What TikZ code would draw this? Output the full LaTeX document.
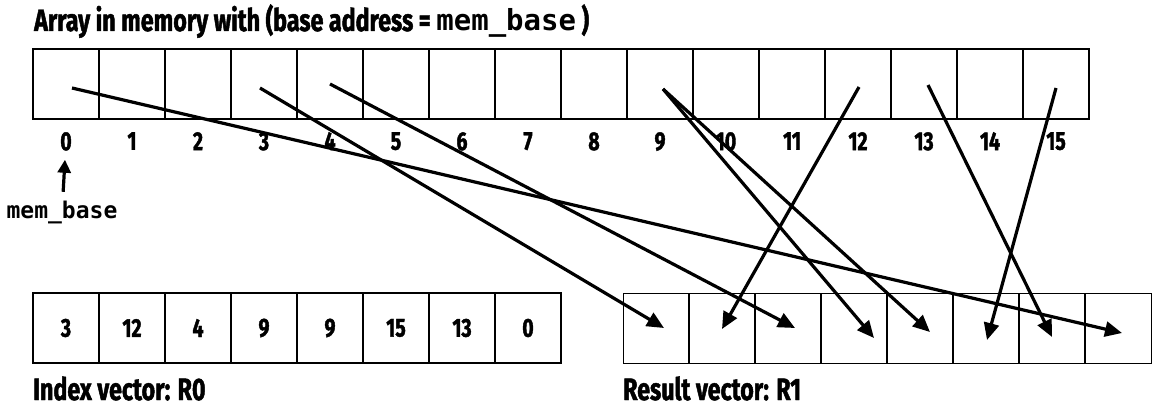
\documentclass[tikz,border=0pt]{standalone}
\usepackage{fontspec}
\newfontfamily\condfont{Fira Sans}[UprightFont=* Bold, FakeStretch=0.75, FakeBold=1.5]
\newfontfamily\codefont{DejaVu Sans Mono}
\usetikzlibrary{arrows.meta,positioning}

\begin{document}
\begin{tikzpicture}[
    x=1pt, y=-1pt,
    node distance=0pt,
    memcell/.style={rectangle, draw, line width=1.6pt, outer sep=0pt, inner sep=0pt, minimum width=66pt, minimum height=70pt},
    idxcell/.style={memcell, font=\condfont\fontsize{26}{28}\selectfont},
    rescell/.style={rectangle, outer sep=0pt, inner sep=0pt, minimum width=66pt, minimum height=70pt},
    numlabel/.style={inner sep=0pt, font=\condfont\fontsize{26}{28}\selectfont},
    caption/.style={anchor=base west, inner sep=0pt, font=\condfont\fontsize{31}{33}\selectfont},
    codelabel/.style={inner sep=0pt, font=\codefont\bfseries\fontsize{23}{25}\selectfont},
    gather/.style={-{Triangle[length=17pt, width=15pt]}, line width=3.2pt},
    pointer/.style={-{Triangle[length=13pt, width=13pt]}, line width=3.2pt}
]
\useasboundingbox (0,0) rectangle (1166,412);

% Title
\node[caption] (title) at (34,31) {Array in memory with (base address = {\codefont\bfseries\fontsize{29}{31}\selectfont mem\_base} )};

% Array in memory (16 cells)
\node[memcell] (m0) at (66,84) {};
\node[memcell, right=of m0] (m1) {};
\node[memcell, right=of m1] (m2) {};
\node[memcell, right=of m2] (m3) {};
\node[memcell, right=of m3] (m4) {};
\node[memcell, right=of m4] (m5) {};
\node[memcell, right=of m5] (m6) {};
\node[memcell, right=of m6] (m7) {};
\node[memcell, right=of m7] (m8) {};
\node[memcell, right=of m8] (m9) {};
\node[memcell, right=of m9] (m10) {};
\node[memcell, right=of m10] (m11) {};
\node[memcell, right=of m11] (m12) {};
\node[memcell, right=of m12] (m13) {};
\node[memcell, right=of m13] (m14) {};
\node[memcell, right=of m14] (m15) {};

% Addresses
\node[numlabel, below=13pt of m0] (l0) {0};
\node[numlabel, below=13pt of m1] (l1) {1};
\node[numlabel, below=13pt of m2] (l2) {2};
\node[numlabel, below=13pt of m3] (l3) {3};
\node[numlabel, below=13pt of m4] (l4) {4};
\node[numlabel, below=13pt of m5] (l5) {5};
\node[numlabel, below=13pt of m6] (l6) {6};
\node[numlabel, below=13pt of m7] (l7) {7};
\node[numlabel, below=13pt of m8] (l8) {8};
\node[numlabel, below=13pt of m9] (l9) {9};
\node[numlabel, below=13pt of m10] (l10) {10};
\node[numlabel, below=13pt of m11] (l11) {11};
\node[numlabel, below=13pt of m12] (l12) {12};
\node[numlabel, below=13pt of m13] (l13) {13};
\node[numlabel, below=13pt of m14] (l14) {14};
\node[numlabel, below=13pt of m15] (l15) {15};

% Base pointer
\node[codelabel, below=50pt of l0, xshift=-4pt] (base) {mem\_base};
\draw[pointer, shorten <=9pt, shorten >=9pt] (base) -- (l0);

% Index vector
\node[idxcell] (i0) at (66,328) {3};
\node[idxcell, right=of i0] (i1) {12};
\node[idxcell, right=of i1] (i2) {4};
\node[idxcell, right=of i2] (i3) {9};
\node[idxcell, right=of i3] (i4) {9};
\node[idxcell, right=of i4] (i5) {15};
\node[idxcell, right=of i5] (i6) {13};
\node[idxcell, right=of i6] (i7) {0};
\node[caption] (idxcap) at ([yshift=-37pt]i0.south west) {Index vector: R0};

% Result vector (thin frame, heavier dividers)
\node[rescell] (r0) at (656,328) {};
\node[rescell, right=of r0] (r1) {};
\node[rescell, right=of r1] (r2) {};
\node[rescell, right=of r2] (r3) {};
\node[rescell, right=of r3] (r4) {};
\node[rescell, right=of r4] (r5) {};
\node[rescell, right=of r5] (r6) {};
\node[rescell, right=of r6] (r7) {};
\draw[line width=1pt] (r0.north west) rectangle (r7.south east);
\draw[line width=1.8pt] (r0.north east) -- (r0.south east);
\draw[line width=1.8pt] (r1.north east) -- (r1.south east);
\draw[line width=1.8pt] (r2.north east) -- (r2.south east);
\draw[line width=1.8pt] (r3.north east) -- (r3.south east);
\draw[line width=1.8pt] (r4.north east) -- (r4.south east);
\draw[line width=1.8pt] (r5.north east) -- (r5.south east);
\draw[line width=1.8pt] (r6.north east) -- (r6.south east);
\node[caption] (rescap) at ([yshift=-37pt]r0.south west) {Result vector: R1};

% Gather: R1[j] = mem_base[R0[j]]
\coordinate (src0) at (72,88);
\coordinate (src3) at (260,88);
\coordinate (src4) at (330,84);
\coordinate (src9) at (663,89);
\coordinate (src12) at (859,87);
\coordinate (src13) at (928,85);
\coordinate (src15) at (1056,88);
\coordinate (dst0) at (664,328);
\coordinate (dst1) at (722,329);
\coordinate (dst2) at (795,328);
\coordinate (dst3) at (874,338);
\coordinate (dst4) at (930,332);
\coordinate (dst5) at (987,340);
\coordinate (dst6) at (1052,337);
\coordinate (dst7) at (1122,333);
\draw[gather] (src3) -- (dst0);
\draw[gather] (src12) -- (dst1);
\draw[gather] (src4) -- (dst2);
\draw[gather] (src9) -- (dst3);
\draw[gather] (src9) -- (dst4);
\draw[gather] (src15) -- (dst5);
\draw[gather] (src13) -- (dst6);
\draw[gather] (src0) -- (dst7);
\end{tikzpicture}
\end{document}
